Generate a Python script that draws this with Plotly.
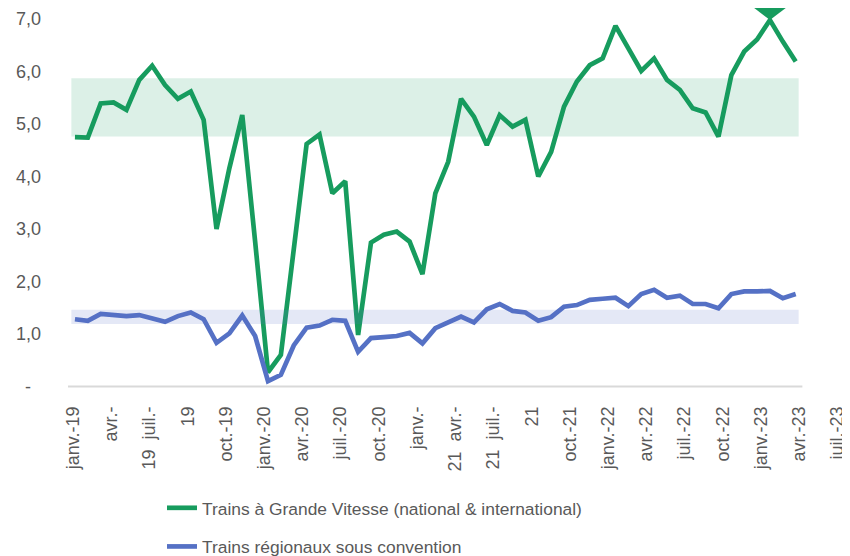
import numpy as np
import pandas as pd
import plotly.graph_objects as go

# monthly series, Jan 2019 -> Sep 2023
months = pd.date_range("2019-01-01", periods=57, freq="MS").strftime("%Y-%m").tolist()

tgv = [4.75, 4.74, 5.39, 5.41, 5.27, 5.84, 6.11, 5.74, 5.48, 5.62,
       5.08, 3.00, 4.16, 5.17, 2.76, 0.27, 0.60, 2.60, 4.62, 4.80,
       3.68, 3.91, 0.98, 2.74, 2.89, 2.95, 2.76, 2.14, 3.68, 4.28,
       5.48, 5.14, 4.60, 5.17, 4.95, 5.08, 4.00, 4.47, 5.33, 5.81,
       6.12, 6.25, 6.87, 6.44, 6.01, 6.25, 5.84, 5.65, 5.30, 5.22,
       4.76, 5.93, 6.38, 6.61, 6.98, 6.57, 6.19]

ter = [1.28, 1.25, 1.38, 1.35, 1.34, 1.36, 1.29, 1.23, 1.34, 1.41,
       1.28, 0.83, 1.01, 1.35, 0.96, 0.10, 0.22, 0.78, 1.12, 1.16,
       1.27, 1.25, 0.66, 0.92, 0.94, 0.96, 1.02, 0.82, 1.11, 1.23,
       1.33, 1.22, 1.47, 1.57, 1.44, 1.41, 1.25, 1.32, 1.52, 1.55,
       1.65, 1.67, 1.69, 1.53, 1.76, 1.84, 1.69, 1.73, 1.57, 1.57,
       1.49, 1.76, 1.81, 1.81, 1.82, 1.68, 1.76]

# usual ranges (low, high)
tgv_band = [4.76, 5.87]
ter_band = [1.19, 1.46]

x_labels = ["janv.-19", "avr.-", "19\u00a0\u00a0juil.-", "19", "oct.-19",
            "janv.-20", "avr.-20", "juil.-20", "oct.-20", "janv.-",
            "21\u00a0\u00a0avr.-", "21\u00a0\u00a0juil.-", "21", "oct.-21", "janv.-22",
            "avr.-22", "juil.-22", "oct.-22", "janv.-23", "avr.-23", "juil.-23"]
y_labels = ["-\u00a0\u00a0", "1,0", "2,0", "3,0", "4,0", "5,0", "6,0", "7,0"]

GREEN = "#179C5E"
BLUE = "#5571C5"
GREY = "#595959"
FONT = "Liberation Sans, Arial, sans-serif"

n = len(months)
idx = np.arange(n)

fig = go.Figure()
fig.add_trace(go.Scatter(
    x=idx, y=tgv, mode="lines", customdata=months,
    name="Trains à Grande Vitesse (national & international)",
    line=dict(color=GREEN, width=4.7), legendgroup="tgv",
    hovertemplate="%{customdata}: %{y:.2f}<extra></extra>",
))
fig.add_trace(go.Scatter(
    x=idx, y=ter, mode="lines", customdata=months,
    name="Trains régionaux sous convention",
    line=dict(color=BLUE, width=4.7), legendgroup="ter",
    hovertemplate="%{customdata}: %{y:.2f}<extra></extra>",
))

# axis baseline stops at the last month, labels run further
x_start, x_end = -0.54, n - 1 + 0.52
fig.add_shape(type="line", x0=x_start, x1=x_end, y0=0, y1=0,
              line=dict(color="#D9D9D9", width=2), layer="below")

for band, color in ((tgv_band, "rgba(23,156,94,0.15)"),
                    (ter_band, "rgba(85,113,197,0.16)")):
    fig.add_shape(type="rect", x0=-0.28, x1=n - 1 + 0.23, y0=band[0], y1=band[1],
                  fillcolor=color, line_width=0, layer="above")

# marker on the peak month
peak = int(np.argmax(tgv))
fig.add_shape(type="path", xsizemode="pixel", ysizemode="pixel",
              xanchor=peak, yanchor=tgv[peak],
              path="M-34,26 L34,26 L0,0 Z",
              fillcolor=GREEN, line_width=0, layer="above")

# page body adds an 8px margin, so the figure is 8px smaller than the window
fig.update_layout(
    width=842, height=548,
    margin=dict(l=60, r=0, t=0, b=168, autoexpand=False),
    paper_bgcolor="white", plot_bgcolor="white",
    font=dict(family=FONT, size=18, color=GREY),
    showlegend=True,
    legend=dict(
        orientation="v", x=(154 - 60) / 782, y=(380 - 482) / 380,
        xanchor="left", yanchor="top",
        tracegroupgap=13, bgcolor="rgba(0,0,0,0)",
        font=dict(size=17.4, color=GREY),
    ),
    xaxis=dict(
        range=[x_start, 60.22], showline=False, showgrid=False, zeroline=False,
        tickmode="array", tickvals=[2.97 * k - 0.15 for k in range(len(x_labels))],
        ticktext=x_labels, tickangle=-90, ticks="", ticklabelstandoff=14,
        tickfont=dict(size=18, color=GREY), automargin=False,
    ),
    yaxis=dict(
        range=[-0.03, 7.21], showline=False, showgrid=False, zeroline=False,
        tickmode="array", tickvals=list(range(len(y_labels))), ticktext=y_labels,
        ticks="", ticklabelstandoff=26, tickfont=dict(size=18, color=GREY),
        automargin=False,
    ),
)

fig.write_html("out.html")
